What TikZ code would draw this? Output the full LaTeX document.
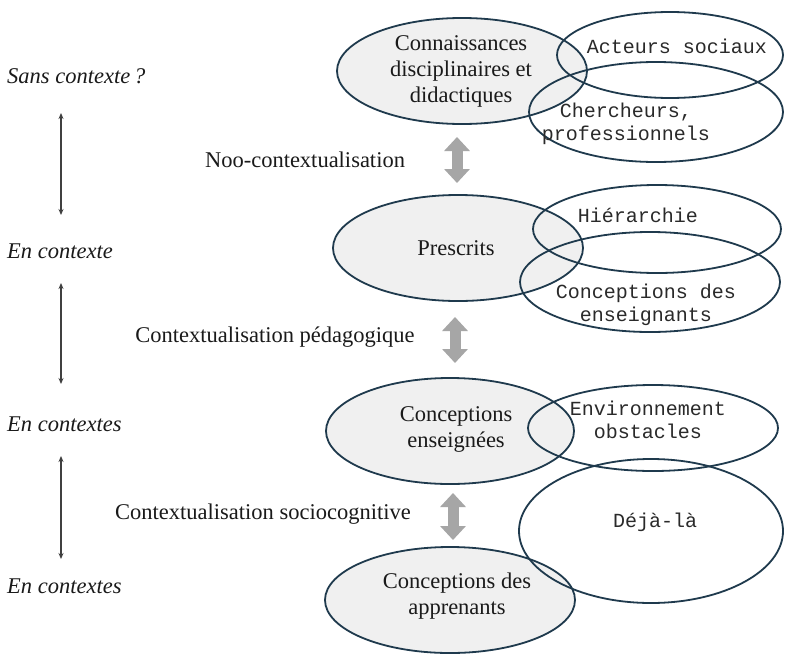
\documentclass[tikz,border=0pt]{standalone}
\usepackage{fontspec}
\setmainfont{Liberation Serif}
\newfontfamily\monofont{Liberation Mono}
\usetikzlibrary{shapes.geometric,arrows.meta}
\definecolor{edge}{HTML}{1F3A4D}
\definecolor{fillg}{HTML}{F0F0F0}
\definecolor{garr}{HTML}{A6A6A6}
\definecolor{darr}{HTML}{404040}
\definecolor{txt}{HTML}{1A1A1A}
\definecolor{mtxt}{HTML}{2A2A2A}
\begin{document}
\begin{tikzpicture}[x=1pt,y=-1pt,
  mainell/.style={ellipse, draw=edge, line width=1.8pt, fill=fillg, inner sep=0pt},
  sideell/.style={ellipse, draw=edge, line width=1.8pt, inner sep=0pt},
  lbl/.style={font=\fontsize{22.5}{26}\selectfont, text=txt, align=center, inner sep=0pt},
  mlbl/.style={font=\monofont\fontsize{20}{23.5}\selectfont, text=mtxt, align=center, inner sep=0pt},
  ctx/.style={font=\itshape\fontsize{22.5}{26}\selectfont, text=txt, anchor=west, inner sep=0pt},
  garrow/.style={draw=garr, line width=11pt, {Triangle[length=14pt,width=25pt]}-{Triangle[length=14pt,width=25pt]}},
  darrow/.style={draw=darr, line width=1.3pt, {Stealth[length=6pt,width=5pt]}-{Stealth[length=6pt,width=5pt]}}
]
\useasboundingbox (0,0) rectangle (800,664);
\fill[white] (0,0) rectangle (800,664);

% main ellipses
\node[mainell, minimum width=250pt, minimum height=106pt] (conn) at (462,71) {};
\node[mainell, minimum width=250pt, minimum height=106pt] (presc) at (458,248) {};
\node[mainell, minimum width=248pt, minimum height=106pt] (ens) at (450,431) {};
\node[mainell, minimum width=250pt, minimum height=106pt] (appr) at (450,600) {};

% side ellipses
\node[sideell, minimum width=226pt, minimum height=86pt] (act) at (670,55) {};
\node[sideell, minimum width=254pt, minimum height=100pt] (cher) at (656,112) {};
\node[sideell, minimum width=248pt, minimum height=88pt] (hier) at (657,229) {};
\node[sideell, minimum width=260pt, minimum height=100pt] (cens) at (650,282) {};
\node[sideell, minimum width=250pt, minimum height=86pt] (env) at (653,428) {};
\node[sideell, minimum width=264pt, minimum height=144pt] (deja) at (651,531) {};

% main texts
\node[lbl] (tconn) at (461,71) {Connaissances\\disciplinaires et\\didactiques};
\node[lbl] (tpresc) at (456,248) {Prescrits};
\node[lbl] (tens) at (456,429) {Conceptions\\enseignées};
\node[lbl] (tappr) at (457,596) {Conceptions des\\apprenants};

% side texts
\node[mlbl] (tact) at (677,46) {Acteurs sociaux};
\node[mlbl] (tcher) at (626,124) {Chercheurs,\\professionnels};
\node[mlbl] (thier) at (638,215) {Hiérarchie};
\node[mlbl] (tcens) at (646,305) {Conceptions des\\enseignants};
\node[mlbl] (tenv) at (648,420) {Environnement\\obstacles};
\node[mlbl] (tdeja) at (655,522) {Déjà-là};

% gray arrows
\coordinate (g1a) at (457,137); \coordinate (g1b) at (457,183);
\coordinate (g2a) at (455,317); \coordinate (g2b) at (455,363);
\coordinate (g3a) at (453,493); \coordinate (g3b) at (453,540);
\draw[garrow] (g1a) -- (g1b);
\draw[garrow] (g2a) -- (g2b);
\draw[garrow] (g3a) -- (g3b);

% middle labels
\node[lbl] (noo) at (305,160) {Noo-contextualisation};
\node[lbl] (ped) at (275,337) {Contextualisation pédagogique};
\node[lbl] (soc) at (263,514) {Contextualisation sociocognitive};

% left column
\node[ctx] (c1) at (7,76) {Sans contexte\,?};
\node[ctx] (c2) at (7,251) {En contexte};
\node[ctx] (c3) at (7,424) {En contextes};
\node[ctx] (c4) at (7,586) {En contextes};

\coordinate (l1a) at (61,113); \coordinate (l1b) at (61,215);
\coordinate (l2a) at (61,283); \coordinate (l2b) at (61,384);
\coordinate (l3a) at (61,456); \coordinate (l3b) at (61,559);
\draw[darrow] (l1a) -- (l1b);
\draw[darrow] (l2a) -- (l2b);
\draw[darrow] (l3a) -- (l3b);
\end{tikzpicture}
\end{document}
